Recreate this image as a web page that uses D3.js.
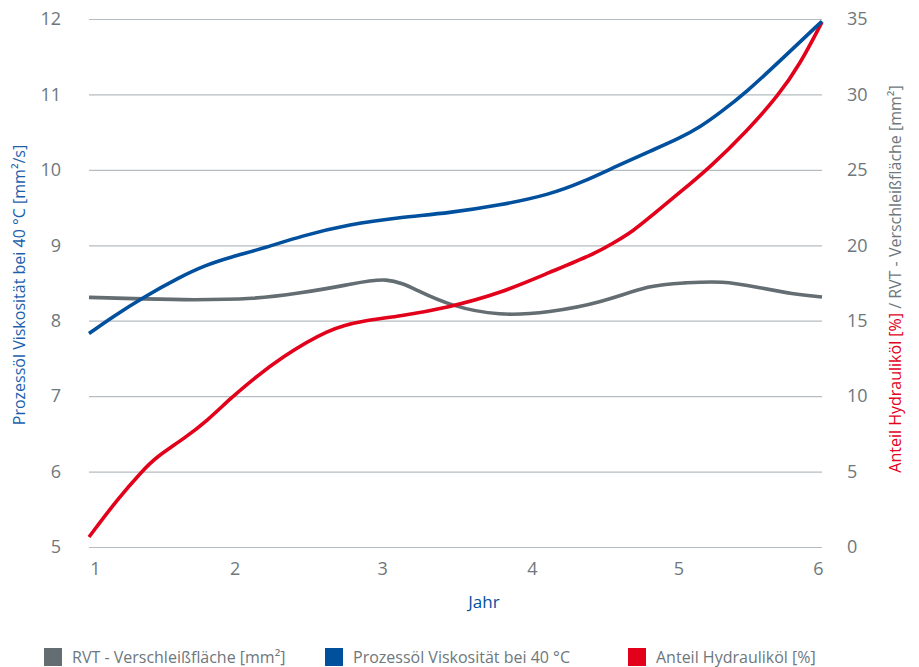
<!DOCTYPE html>
<html>
<head>
<meta charset="utf-8">
<script src="https://cdn.jsdelivr.net/npm/d3@7"></script>
<style>
  body { margin: 0; background: #fff; }
  text { font-family: "Open Sans", "Noto Sans", sans-serif; }
</style>
</head>
<body>
<div id="chart"></div>
<script>
// values (x = Jahr)
let viscYears = [1, 1.16, 1.37, 1.62, 1.8, 1.96, 2.21, 2.44, 2.78, 3.12, 3.46, 3.8, 4.14, 4.37, 4.6, 4.83, 5.03, 5.17, 5.3, 5.49, 5.71, 6];
let viscValues = [7.83, 8.05, 8.31, 8.58, 8.74, 8.84, 8.97, 9.12, 9.28, 9.37, 9.43, 9.53, 9.67, 9.84, 10.05, 10.25, 10.42, 10.57, 10.75, 11.04, 11.44, 11.97];

let oilYears = [1, 1.2, 1.37, 1.45, 1.65, 1.81, 1.97, 2.13, 2.3, 2.64, 2.87, 3.12, 3.46, 3.8, 4.14, 4.44, 4.57, 4.72, 4.83, 5.03, 5.24, 5.49, 5.7, 5.85, 6];
let oilValues = [0.66, 3.25, 5.1, 5.9, 7.2, 8.4, 9.9, 11.2, 12.5, 14.5, 15.0, 15.3, 15.9, 16.8, 18.2, 19.4, 20.1, 21.0, 21.9, 23.5, 25.2, 27.6, 29.9, 32.0, 34.8];

let wearYears = [1, 1.4, 1.69, 2.14, 2.42, 2.76, 3.04, 3.24, 3.46, 3.8, 4.14, 4.49, 4.83, 5.06, 5.32, 5.57, 5.8, 6];
let wearValues = [16.55, 16.44, 16.37, 16.44, 16.8, 17.35, 17.95, 17.0, 16.0, 15.3, 15.55, 16.17, 17.4, 17.5, 17.65, 17.2, 16.77, 16.57];

let xTicks = [1, 2, 3, 4, 5, 6];
let leftTicks = [5, 6, 7, 8, 9, 10, 11, 12];
let rightTicks = [0, 5, 10, 15, 20, 25, 30, 35];

let legendItems = ["RVT - Verschleißfläche [mm²]", "Prozessöl Viskosität bei 40 °C", "Anteil Hydrauliköl [%]"];

let colGray = "#636d72",
  colBlue = "#00509e",
  colRed = "#e2001a",
  colText = "#6e777c",
  colGrid = "#b5bcc2";

// set the dimensions and margins of the graph
let margin = { top: 19, right: 97, bottom: 120, left: 89 },
  width = 919 - margin.left - margin.right,
  height = 667 - margin.top - margin.bottom;

let svg = d3
  .select("#chart")
  .append("svg")
  .attr("width", 919)
  .attr("height", 667);

let g = svg.append("g").attr("transform", "translate(" + margin.left + "," + margin.top + ")");

let x = d3.scaleLinear().domain([1, 6]).range([0, width]);
let yLeft = d3.scaleLinear().domain([5, 12]).range([height, 0]);
let yRight = d3.scaleLinear().domain([0, 35]).range([height, 0]);

// grid lines
g.append("g")
  .call(d3.axisRight(yLeft).tickValues(leftTicks).tickSize(width).tickFormat(""))
  .call((a) => a.select(".domain").remove())
  .selectAll("line")
  .attr("stroke", colGrid)
  .attr("stroke-width", 1.2);

// left axis
g.append("g")
  .attr("transform", "translate(-25,0)")
  .call(d3.axisLeft(yLeft).tickValues(leftTicks).tickSize(0).tickFormat(d3.format("d")))
  .call((a) => a.select(".domain").remove())
  .selectAll("text")
  .attr("fill", colText)
  .style("font-size", "18px");

// right axis
g.append("g")
  .attr("transform", "translate(" + (width + 22) + ",0)")
  .call(d3.axisRight(yRight).tickValues(rightTicks).tickSize(0).tickFormat(d3.format("d")))
  .call((a) => a.select(".domain").remove())
  .selectAll("text")
  .attr("fill", colText)
  .style("font-size", "18px");

// x axis
let xAxis = g
  .append("g")
  .attr("transform", "translate(0," + (height + 12) + ")")
  .call(d3.axisBottom(x).tickValues(xTicks).tickSize(0).tickFormat(d3.format("d")));
xAxis.select(".domain").remove();
xAxis
  .selectAll("text")
  .attr("fill", colText)
  .style("font-size", "18px")
  .attr("dx", (d) => (d === 1 ? 6 : d === 6 ? -4 : d === 4 ? 3 : d === 5 ? 3 : d === 2 ? -1 : 0));

// axis titles
svg
  .append("text")
  .attr("x", 484)
  .attr("y", 608)
  .attr("text-anchor", "middle")
  .attr("fill", colBlue)
  .style("font-size", "17px")
  .text("Jahr");

svg
  .append("text")
  .attr("transform", "translate(25,285) rotate(-90)")
  .attr("text-anchor", "middle")
  .attr("fill", "#1a5fab")
  .style("font-size", "16px")
  .text("Prozessöl Viskosität bei 40 °C [mm²/s]");

let rightTitle = svg
  .append("text")
  .attr("transform", "translate(901,279) rotate(-90)")
  .attr("text-anchor", "middle")
  .style("font-size", "16px");
rightTitle.append("tspan").attr("fill", colRed).text("Anteil Hydrauliköl [%]");
rightTitle.append("tspan").attr("fill", colText).text(" / RVT - Verschleißfläche [mm²]");

// lines
function drawLine(xs, vs, yScale, color) {
  let pts = xs.map((d, i) => [d, vs[i]]);
  g.append("path")
    .datum(pts)
    .attr(
      "d",
      d3
        .line()
        .x((d) => x(d[0]))
        .y((d) => yScale(d[1]))
        .curve(d3.curveBasis)
    )
    .attr("stroke", color)
    .style("stroke-width", 3.6)
    .style("fill", "none")
    .style("stroke-linejoin", "round");
}

drawLine(wearYears, wearValues, yRight, colGray);
drawLine(oilYears, oilValues, yRight, colRed);
drawLine(viscYears, viscValues, yLeft, colBlue);

// legend
let legendX = [44, 325, 628];
let legendCol = [colGray, colBlue, colRed];
let legend = svg
  .selectAll(".legend")
  .data(legendItems)
  .enter()
  .append("g")
  .attr("class", "legend")
  .attr("transform", (d, i) => "translate(" + legendX[i] + ",648)");
legend
  .append("rect")
  .attr("width", 18)
  .attr("height", 18)
  .attr("fill", (d, i) => legendCol[i]);
legend
  .append("text")
  .attr("x", 28)
  .attr("y", 15)
  .attr("fill", colText)
  .style("font-size", "16px")
  .text((d) => d);
</script>
</body>
</html>
